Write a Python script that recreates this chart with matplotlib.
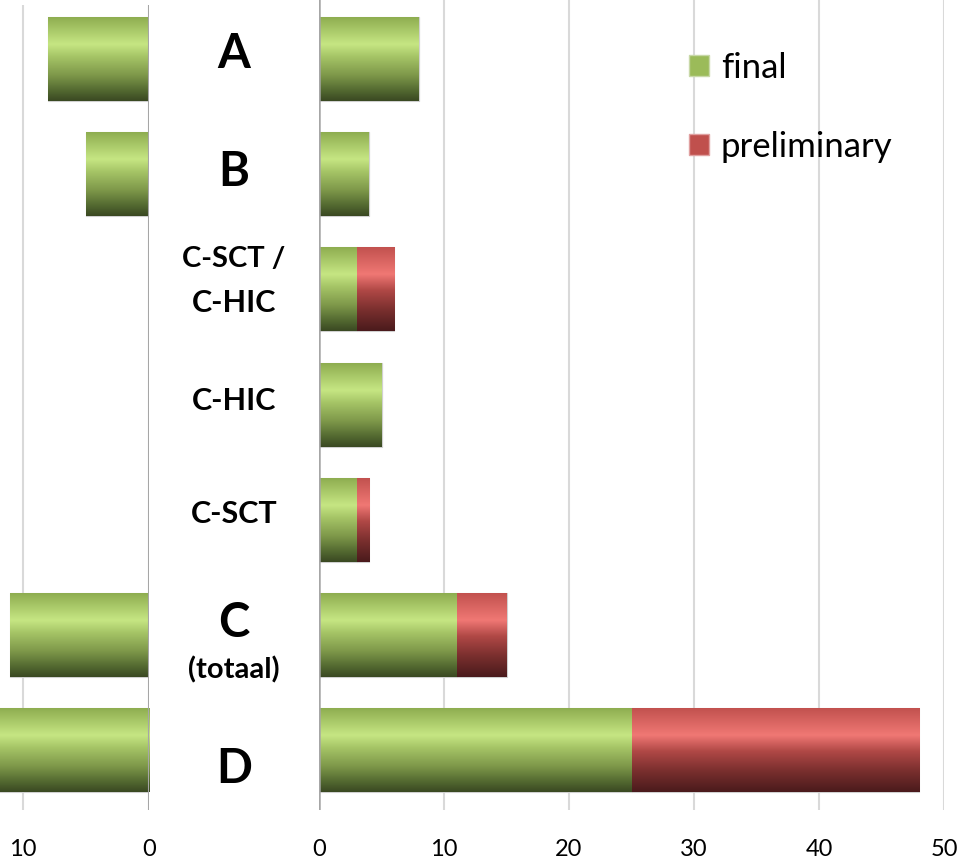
import numpy as np
import matplotlib
matplotlib.use("Agg")
import matplotlib.pyplot as plt
from matplotlib.colors import LinearSegmentedColormap
from matplotlib.patches import Patch
from matplotlib.transforms import blended_transform_factory

# data
categories = ["A", "B", "C-SCT / C-HIC", "C-HIC", "C-SCT", "C (totaal)", "D"]
left_final = [8, 5, 0, 0, 0, 11, 12]
right_final = [8, 4, 3, 5, 3, 11, 25]
right_prelim = [0, 0, 3, 0, 1, 4, 23]
left_ticks = [0, 10]
right_ticks = [0, 10, 20, 30, 40, 50]

GREEN = "#9bbb59"
RED = "#c0504d"
GRID = "#d9d9d9"
AXIS = "#a6a6a6"

green_cm = LinearSegmentedColormap.from_list("g", [
    (0.0, "#8cab4e"), (0.33, "#c6e683"), (0.48, "#a5c466"),
    (0.7, "#7d9749"), (0.88, "#526830"), (1.0, "#3a4822")])
red_cm = LinearSegmentedColormap.from_list("r", [
    (0.0, "#c0504d"), (0.33, "#f07874"), (0.52, "#b04846"),
    (0.75, "#7a2f2e"), (1.0, "#4a1a1c")])
GRAD = np.linspace(0, 1, 256).reshape(-1, 1)

plt.rcParams.update({
    "font.family": ["Lato", "DejaVu Sans"],
    "figure.dpi": 100, "savefig.dpi": 100,
})

BAR_H = 0.73


def grad_bars(ax, y, left, width, cmap, color):
    bars = ax.barh(y, width, left=left, height=BAR_H, color=color,
                   edgecolor="#d0d0d0", lw=0.8, zorder=2)
    for b in bars:
        w = b.get_width()
        if w == 0:
            continue
        x0 = b.get_x()
        yb = b.get_y()
        h = b.get_height()
        im = ax.imshow(GRAD, cmap=cmap, aspect="auto", interpolation="bilinear",
                       extent=(x0, x0 + w, yb + h, yb), origin="upper", zorder=2.5)
        im.set_clip_path(b)
    return bars


fig = plt.figure(figsize=(9.8, 8.68))
bottom = 1 - 810 / 868
height = 1 - bottom
axL = fig.add_axes([0.0, bottom, 149 / 980, height - 5 / 868])
axR = fig.add_axes([319 / 980, bottom, 625 / 980, height])

y = np.arange(len(categories))

grad_bars(axL, y, 0, left_final, green_cm, GREEN)
grad_bars(axR, y, 0, right_final, green_cm, GREEN)
grad_bars(axR, y, right_final, right_prelim, red_cm, RED)

row0 = 59
step = 115.2
top_v = -row0 / step
axL.set_ylim((810 - row0) / step, top_v + 5 / step)
axR.set_ylim((810 - row0) / step, top_v)
axL.set_xlim(149 / 12.6, 0)
axR.set_xlim(0, 50)

for ax, ticks in ((axL, left_ticks), (axR, right_ticks)):
    ax.set_xticks(ticks)
    ax.set_yticks([])
    ax.tick_params(axis="x", length=0, pad=21, labelsize=17, colors="#000000")
    for s in ("top", "bottom", "left", "right"):
        ax.spines[s].set_visible(False)
    for t in ticks:
        if t == 0:
            continue
        ax.axvline(t, color=GRID, lw=1.5, zorder=0)

axL.axvline(0, color=AXIS, lw=1.5, zorder=3)
axR.axvline(0, color=AXIS, lw=1.8, zorder=3)
axL.set_xticklabels([str(t) for t in left_ticks])

# category labels in the gap between the panels
tr = blended_transform_factory(fig.transFigure, axR.transData)
xc = 234 / 980
lab = dict(transform=tr, ha="center", va="center", fontweight="bold", color="black")
fig.text(xc, 0 - 0.04, "A", fontsize=34, **lab)
fig.text(xc, 1 - 0.02, "B", fontsize=34, **lab)
fig.text(xc, 2 - 0.26, "C-SCT /", fontsize=21, **lab)
fig.text(xc, 2 + 0.12, "C-HIC", fontsize=22, **lab)
fig.text(xc, 3 - 0.03, "C-HIC", fontsize=22, **lab)
fig.text(xc, 4 - 0.05, "C-SCT", fontsize=22, **lab)
fig.text(xc, 5 - 0.10, "C", fontsize=34, **lab)
fig.text(xc, 5 + 0.30, "(totaal)", fontsize=21, **lab)
fig.text(xc, 6 + 0.16, "D", fontsize=34, **lab)

handles = [Patch(facecolor=GREEN, edgecolor="#c8d8a8", label="final"),
           Patch(facecolor=RED, edgecolor="#e0a0a0", label="preliminary")]
fig.legend(handles=handles, loc="upper left", bbox_to_anchor=(689 / 980, 1 - 52 / 868),
           frameon=False, fontsize=25, handlelength=0.57, handleheight=0.57,
           handletextpad=0.35, labelspacing=1.35, borderpad=0, borderaxespad=0)

fig.savefig("out.png", dpi=100, facecolor="white")
